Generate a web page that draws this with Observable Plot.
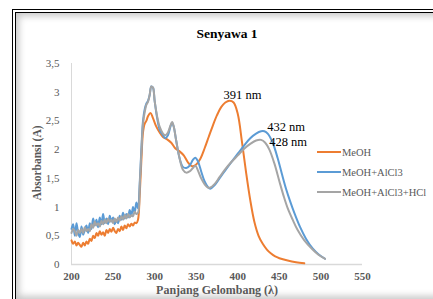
<!DOCTYPE html>
<html>
<head>
<meta charset="utf-8">
<script src="https://cdn.jsdelivr.net/npm/d3@7"></script>
<script src="https://cdn.jsdelivr.net/npm/@observablehq/plot@0.6"></script>
<style>
  html, body { margin: 0; padding: 0; background: #fff; }
  #wrap { position: relative; width: 433px; height: 299px; overflow: hidden; background: #fff; font-family: "Liberation Serif", "DejaVu Serif", serif; }
  #frame { position: absolute; left: 12px; top: 9px; width: 430px; height: 286px; border: 4px double #000; box-shadow: inset 0 0 7px 3px rgba(0,0,0,0.22); }
  #chart { position: absolute; left: 0; top: 0; }
  .title { position: absolute; left: 0; width: 454px; top: 27px; line-height: 1; text-align: center; font-weight: bold; font-size: 13.5px; color: #000; }
  .xlab { position: absolute; left: 0; width: 434px; top: 284px; line-height: 1; text-align: center; font-weight: bold; font-size: 12px; color: #595959; }
  .ylab { position: absolute; left: 38px; top: 163px; line-height: 1; transform: translate(-50%, -50%) rotate(-90deg); white-space: nowrap; font-weight: bold; font-size: 11.5px; color: #595959; }
  .legend { position: absolute; left: 317px; top: 142px; font-size: 10.5px; color: #595959; }
  .legend .it { display: flex; align-items: center; height: 20px; }
  .legend .sw { width: 24px; height: 2px; margin-right: 1px; }
</style>
</head>
<body>
<div id="wrap">
  <div id="frame"></div>
  <div id="chart"></div>
  <div class="title">Senyawa 1</div>
  <div class="xlab">Panjang Gelombang (λ)</div>
  <div class="ylab">Absorbansi (A)</div>
  <div class="legend" id="legend"></div>
</div>
<script>
const seriesNames = ["MeOH", "MeOH+AlCl3", "MeOH+AlCl3+HCl"];
const seriesColors = ["#ED7D31", "#5B9BD5", "#A5A5A5"];

const xTicks = [200, 250, 300, 350, 400, 450, 500, 550];
const yTicks = [0, 0.5, 1, 1.5, 2, 2.5, 3, 3.5];

const meohNm = [200,202,204,206,208,210,212,214,216,218,220,222,224,226,228,230,232,234,236,238,240,242,244,246,248,250,252,254,256,258,260,262,264,266,268,270,272,274,276,278,280,
  282,284,286,288,290,292,295,298,302,306,310,315,320,325,330,335,340,345,350,355,360,365,370,375,380,385,390,395,400,405,410,415,420,425,430,435,440,445,450,460,470,480];
const meohA = [0.42,0.36,0.40,0.33,0.38,0.34,0.31,0.38,0.33,0.40,0.36,0.45,0.41,0.50,0.46,0.55,0.50,0.58,0.52,0.56,0.50,0.60,0.55,0.62,0.57,0.64,0.58,0.55,0.62,0.58,0.66,0.60,0.68,0.63,0.70,0.66,0.71,0.68,0.73,0.72,0.78,
  1.20,1.80,2.30,2.45,2.50,2.58,2.64,2.55,2.40,2.30,2.22,2.18,2.12,2.02,1.97,1.90,1.78,1.71,1.74,1.84,2.02,2.22,2.42,2.60,2.74,2.82,2.85,2.82,2.62,2.14,1.60,1.12,0.74,0.50,0.36,0.26,0.19,0.14,0.11,0.07,0.04,0.02];

const alNm = [200,202,204,206,208,210,212,214,216,218,220,222,224,226,228,230,232,234,236,238,240,242,244,246,248,250,252,254,256,258,260,262,264,266,268,270,272,274,276,278,280,
  282,284,286,288,290,292,294,296,298,300,303,306,310,313,316,319,321,323,326,330,334,338,342,346,349,352,356,360,364,367,372,378,385,392,400,408,415,422,428,432,436,442,448,453,458,463,468,475,482,490,497,505];
const alA = [0.62,0.70,0.50,0.72,0.55,0.48,0.66,0.52,0.60,0.68,0.55,0.72,0.62,0.80,0.68,0.78,0.65,0.82,0.70,0.88,0.72,0.80,0.70,0.85,0.75,0.82,0.70,0.78,0.72,0.85,0.78,0.90,0.80,0.88,0.82,0.95,0.85,1.00,0.90,1.08,0.98,
  1.40,2.00,2.50,2.70,2.80,2.85,2.95,3.10,3.08,2.85,2.55,2.35,2.25,2.20,2.25,2.40,2.47,2.40,2.15,1.85,1.70,1.68,1.72,1.82,1.86,1.80,1.62,1.45,1.35,1.32,1.38,1.50,1.64,1.78,1.93,2.08,2.20,2.28,2.32,2.32,2.28,2.12,1.85,1.58,1.32,1.10,0.90,0.65,0.45,0.28,0.18,0.10];

const hclNm = [200,202,204,206,208,210,212,214,216,218,220,222,224,226,228,230,232,234,236,238,240,242,244,246,248,250,252,254,256,258,260,262,264,266,268,270,272,274,276,278,280,
  282,284,286,288,290,292,294,296,298,300,303,306,310,313,316,319,321,323,326,330,334,338,342,346,349,352,356,360,364,367,372,378,385,392,400,408,415,422,428,433,438,444,450,455,460,466,472,480,490,497,505];
const hclA = [0.55,0.62,0.58,0.50,0.60,0.55,0.62,0.55,0.65,0.58,0.62,0.58,0.70,0.64,0.75,0.68,0.72,0.66,0.76,0.70,0.78,0.72,0.80,0.74,0.78,0.72,0.80,0.74,0.82,0.76,0.84,0.78,0.86,0.80,0.88,0.82,0.86,0.84,0.92,0.88,0.90,
  1.35,1.95,2.45,2.65,2.78,2.83,2.95,3.10,3.08,2.85,2.58,2.40,2.28,2.25,2.30,2.42,2.48,2.40,2.15,1.85,1.65,1.60,1.62,1.68,1.72,1.64,1.50,1.40,1.34,1.34,1.40,1.52,1.66,1.78,1.90,2.02,2.10,2.16,2.17,2.12,2.00,1.76,1.45,1.20,0.98,0.78,0.60,0.42,0.26,0.17,0.10];

const peakLabels = ["391 nm", "432 nm", "428 nm"];

const rows = [];
[[meohNm, meohA], [alNm, alA], [hclNm, hclA]].forEach(([xs, ys], i) => {
  xs.forEach((x, j) => rows.push({series: seriesNames[i], nm: x, A: ys[j]}));
});

// annotations anchored at each series' long-wavelength peak
function peakOf(xs, ys, minNm) {
  let best = -1;
  xs.forEach((x, j) => { if (x >= minNm && (best < 0 || ys[j] > ys[best])) best = j; });
  return {nm: xs[best], A: ys[best]};
}
const annMeoh = [{...peakOf(meohNm, meohA, 360), label: peakLabels[0]}];
const annAl = [{...peakOf(alNm, alA, 360), label: peakLabels[1]}];
const annHcl = [{...peakOf(hclNm, hclA, 360), label: peakLabels[2]}];

const fmt = d => String(d).replace(".", ",");
const annStyle = {x: "nm", y: "A", text: "label", fontSize: 12.5, fill: "#000", textAnchor: "middle"};

const plot = Plot.plot({
  width: 433,
  height: 299,
  marginLeft: 71,
  marginRight: 71,
  marginTop: 63,
  marginBottom: 35,
  style: {fontFamily: "Liberation Serif, serif", background: "transparent", overflow: "visible"},
  x: {domain: [200, 550]},
  y: {domain: [0, 3.5]},
  color: {domain: seriesNames, range: seriesColors},
  marks: [
    Plot.ruleY([0], {stroke: "#d9d9d9", strokeWidth: 1.5}),
    Plot.ruleX([200], {stroke: "#d9d9d9", strokeWidth: 1}),
    Plot.axisX({ticks: xTicks, tickSize: 0, tickPadding: 8, label: null, fontSize: 11, fontWeight: "bold", fill: "#595959", color: "#595959"}),
    Plot.axisY({ticks: yTicks, tickSize: 0, tickPadding: 12, label: null, tickFormat: fmt, fontSize: 11, fill: "#595959", color: "#595959"}),
    Plot.line(rows, {x: "nm", y: "A", z: "series", stroke: "series", strokeWidth: 2, curve: "catmull-rom"}),
    Plot.text(annMeoh, {...annStyle, dx: 13, dy: -6}),
    Plot.text(annAl, {...annStyle, dx: 25, dy: -4}),
    Plot.text(annHcl, {...annStyle, dx: 27, dy: 2})
  ]
});
document.getElementById("chart").appendChild(plot);

// Legend
const lg = document.getElementById("legend");
seriesNames.forEach((n, i) => {
  const it = document.createElement("div"); it.className = "it";
  const sw = document.createElement("div"); sw.className = "sw"; sw.style.background = seriesColors[i];
  const tx = document.createElement("span"); tx.textContent = n;
  it.appendChild(sw); it.appendChild(tx); lg.appendChild(it);
});
</script>
</body>
</html>
